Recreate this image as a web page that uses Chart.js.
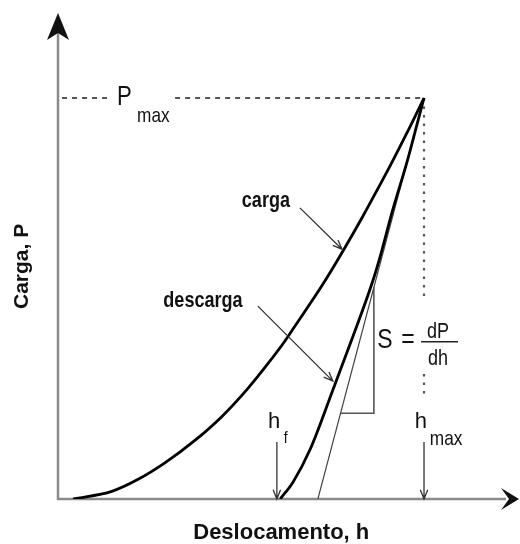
<!DOCTYPE html>
<html>
<head>
<meta charset="utf-8">
<script src="https://cdn.jsdelivr.net/npm/chart.js@4.4.1/dist/chart.umd.min.js"></script>
<style>
  body { margin: 0; background: #fff; }
  canvas { display: block; }
</style>
</head>
<body>
<canvas id="pCurve" width="520" height="544"></canvas>
<script>
// displacement h and load P, both in % of max (hmax = Pmax = 100)
const hLoad = [4.1, 14.7, 21.9, 29.2, 37.4, 44.8, 51.9, 57.4, 62.0, 64.2, 72.4, 77.9, 83.3, 87.4, 90.7, 95.4, 100];
const pLoad = [0, 1.9, 4.9, 9.0, 14.6, 20.6, 27.6, 33.8, 39.4, 42.4, 53.6, 61.9, 70.5, 77.4, 83.0, 91.4, 100];

const hUnload = [60.7, 64.2, 68.9, 75.1, 80.6, 85.8, 88.0, 91.3, 95.4, 98.4, 100];
const pUnload = [0, 4.2, 12.4, 27.2, 40.6, 53.8, 60.4, 71.6, 84.2, 94.5, 100];

// tangent to the unloading curve at Pmax and its slope triangle
const hTangent = [71.0, 100];
const pTangent = [0, 100];
const hTriangle = [77.2, 86.3, 86.3];
const pTriangle = [21.4, 21.4, 52.8];

// guide lines to Pmax and hmax (null = gap for the labels)
const hPmaxGuide = [1.1, 14.2, null, 32.0, 100];
const pPmaxGuide = [100, 100, null, 100, 100];
const hHmaxGuide = [100, 100, null, 100, 100];
const pHmaxGuide = [100, 49.4, null, 31.2, 25.2];

const xMax = 125.68, yMax = 120.45;

const pts = (xs, ys) => xs.map((x, i) => ({ x: x, y: ys[i] }));

const textColor = '#111';

// label text: [text, h, P, font, align, narrow]
const labels = [
    ['carga', 56.8, 72.8, 'bold 22px "Liberation Sans", Arial', 'center', true],
    ['descarga', 39.6, 47.9, 'bold 22px "Liberation Sans", Arial', 'center', true],
    ['P', 16.1, 98.3, '27px "Liberation Sans", Arial', 'left', true],
    ['max', 21.6, 94.0, '21px "Liberation Sans", Arial', 'left', true],
    ['S', 87.2, 37.7, '28px "Liberation Sans", Arial', 'left', true],
    ['=', 93.8, 37.7, '28px "Liberation Sans", Arial', 'left', true],
    ['dP', 103.8, 40.1, '22px "Liberation Sans", Arial', 'center', true],
    ['dh', 103.8, 33.4, '22px "Liberation Sans", Arial', 'center', true],
    ['h', 57.4, 17.7, '22px "Liberation Sans", Arial', 'left', false],
    ['f', 61.7, 13.9, '17px "Liberation Sans", Arial', 'left', true],
    ['h', 97.5, 17.7, '22px "Liberation Sans", Arial', 'left', false],
    ['max', 101.6, 13.5, '21px "Liberation Sans", Arial', 'left', true]
];

// pointer arrows: [fromH, fromP, toH, toP]
const pointers = [
    [66.1, 72.6, 77.6, 62.3],
    [54.6, 48.1, 75.1, 29.4],
    [59.8, 14.2, 59.8, 0],
    [100, 14.2, 100, 0]
];

const drawText = (ctx, t, x, y, font, align, narrow, angle) => {
    ctx.save();
    ctx.translate(x, y);
    if (angle) ctx.rotate(angle);
    if (narrow) ctx.scale(0.82, 1);
    ctx.font = font;
    ctx.fillStyle = textColor;
    ctx.textAlign = align;
    ctx.textBaseline = 'alphabetic';
    ctx.fillText(t, 0, 0);
    ctx.restore();
};

const drawPointer = (ctx, x1, y1, x2, y2) => {
    const a = Math.atan2(y2 - y1, x2 - x1);
    const len = 10, spread = 0.38;
    ctx.beginPath();
    ctx.moveTo(x1, y1);
    ctx.lineTo(x2, y2);
    ctx.moveTo(x2 - len * Math.cos(a - spread), y2 - len * Math.sin(a - spread));
    ctx.lineTo(x2, y2);
    ctx.lineTo(x2 - len * Math.cos(a + spread), y2 - len * Math.sin(a + spread));
    ctx.stroke();
};

const axesPlugin = {
    id: 'axesArrows',
    beforeDatasetsDraw(chart) {
        const { ctx, scales: { x, y } } = chart;
        const x0 = x.getPixelForValue(0), y0 = y.getPixelForValue(0);
        const xEnd = x.getPixelForValue(xMax), yEnd = y.getPixelForValue(yMax);
        ctx.save();
        ctx.strokeStyle = '#8a8a8a';
        ctx.lineWidth = 2.5;
        ctx.beginPath();
        ctx.moveTo(x0, yEnd + 14);
        ctx.lineTo(x0, y0);
        ctx.lineTo(xEnd - 12, y0);
        ctx.stroke();

        // filled arrowheads
        ctx.fillStyle = '#111';
        ctx.beginPath();
        ctx.moveTo(x0, yEnd - 3);
        ctx.lineTo(x0 - 11, yEnd + 24);
        ctx.lineTo(x0, yEnd + 17);
        ctx.lineTo(x0 + 11, yEnd + 24);
        ctx.closePath();
        ctx.fill();
        ctx.beginPath();
        ctx.moveTo(xEnd + 1, y0);
        ctx.lineTo(xEnd - 17, y0 - 11);
        ctx.lineTo(xEnd - 9, y0);
        ctx.lineTo(xEnd - 17, y0 + 11);
        ctx.closePath();
        ctx.fill();
        ctx.restore();
    },
    afterDatasetsDraw(chart) {
        const { ctx, scales: { x, y } } = chart;
        ctx.save();
        ctx.strokeStyle = '#333';
        ctx.lineWidth = 1.3;
        pointers.forEach(p => drawPointer(ctx,
            x.getPixelForValue(p[0]), y.getPixelForValue(p[1]),
            x.getPixelForValue(p[2]), y.getPixelForValue(p[3])));

        // fraction bar of dP/dh
        ctx.strokeStyle = '#222';
        ctx.lineWidth = 1.5;
        ctx.beginPath();
        ctx.moveTo(x.getPixelForValue(99.2), y.getPixelForValue(39.2));
        ctx.lineTo(x.getPixelForValue(109.3), y.getPixelForValue(39.2));
        ctx.stroke();
        ctx.restore();

        labels.forEach(l => drawText(ctx, l[0], x.getPixelForValue(l[1]), y.getPixelForValue(l[2]), l[3], l[4], l[5]));

        // axis titles
        drawText(ctx, 'Deslocamento, h', x.getPixelForValue(61.0), y.getPixelForValue(-10.0),
            'bold 22px "Liberation Sans", Arial', 'center', false);
        drawText(ctx, 'Carga, P', x.getPixelForValue(-8.2), y.getPixelForValue(58.0),
            'bold 21px "Liberation Sans", Arial', 'center', false, -Math.PI / 2);
    }
};

new Chart(document.getElementById('pCurve'), {
    type: 'scatter',
    data: {
        datasets: [
            {
                label: 'carga',
                data: pts(hLoad, pLoad),
                showLine: true,
                borderColor: '#000',
                borderWidth: 2.8,
                cubicInterpolationMode: 'monotone',
                pointRadius: 0
            },
            {
                label: 'descarga',
                data: pts(hUnload, pUnload),
                showLine: true,
                borderColor: '#000',
                borderWidth: 2.8,
                cubicInterpolationMode: 'monotone',
                pointRadius: 0
            },
            {
                label: 'tangente',
                data: pts(hTangent, pTangent),
                showLine: true,
                borderColor: '#444',
                borderWidth: 1.2,
                pointRadius: 0
            },
            {
                label: 'S',
                data: pts(hTriangle, pTriangle),
                showLine: true,
                borderColor: '#555',
                borderWidth: 1.6,
                pointRadius: 0
            },
            {
                label: 'Pmax',
                data: pts(hPmaxGuide, pPmaxGuide),
                showLine: true,
                spanGaps: false,
                borderColor: '#555',
                borderWidth: 2,
                borderDash: [5, 5],
                pointRadius: 0
            },
            {
                label: 'hmax',
                data: pts(hHmaxGuide, pHmaxGuide),
                showLine: true,
                spanGaps: false,
                borderColor: '#555',
                borderWidth: 2.2,
                borderDash: [2.5, 6],
                pointRadius: 0
            }
        ]
    },
    options: {
        responsive: false,
        animation: false,
        layout: { padding: { left: 58, right: 2, top: 16, bottom: 45 } },
        scales: {
            x: { type: 'linear', min: 0, max: xMax, display: false },
            y: { type: 'linear', min: 0, max: yMax, display: false }
        },
        plugins: {
            legend: { display: false },
            tooltip: { enabled: false }
        }
    },
    plugins: [axesPlugin]
});
</script>
</body>
</html>
